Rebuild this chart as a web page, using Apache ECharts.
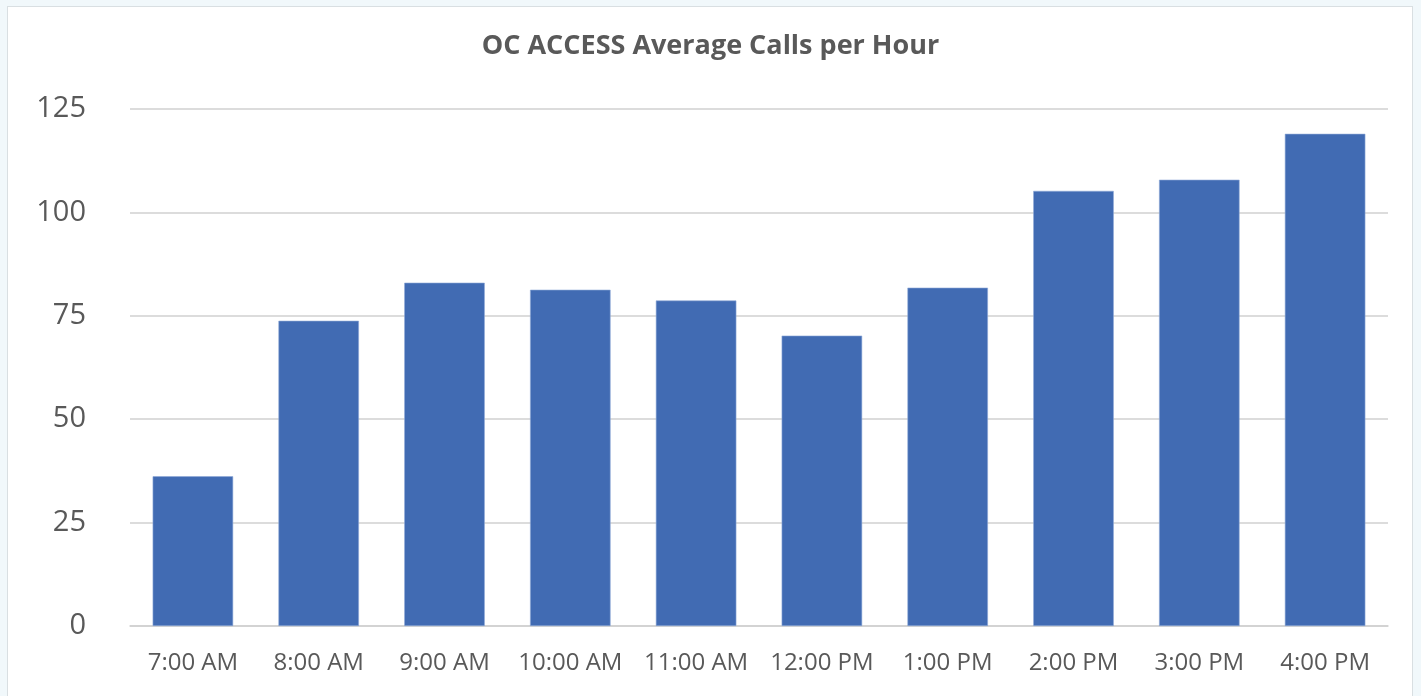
<!DOCTYPE html>
<html><head><meta charset="utf-8">
<script src="https://cdn.jsdelivr.net/npm/echarts@6/dist/echarts.min.js"></script>
<style>
html,body{margin:0;padding:0;background:#f1f8fb;}
#frame{position:absolute;left:7px;top:6px;width:1406px;height:700px;background:#fff;border:1px solid #d9dfe2;box-sizing:border-box;}
#c{position:absolute;left:0;top:0;width:1421px;height:696px;}
</style></head><body>
<div id="frame"></div>
<div id="c"></div>
<script>
const categories = ["7:00 AM","8:00 AM","9:00 AM","10:00 AM","11:00 AM","12:00 PM","1:00 PM","2:00 PM","3:00 PM","4:00 PM"];
const values = [36.2, 73.8, 83.0, 81.3, 78.7, 70.2, 81.8, 105.2, 107.9, 119.0];
const yTicks = [0, 25, 50, 75, 100, 125];
const titleText = "OC ACCESS Average Calls per Hour";

const chart = echarts.init(document.getElementById('c'), null, {renderer:'canvas'});
chart.setOption({
  animation:false,
  title:{text:titleText,left:'center',top:28,textStyle:{fontFamily:'Open Sans',fontWeight:'bold',fontSize:27,color:'#595959'}},
  grid:{left:130,right:33,top:109,bottom:70,containLabel:false},
  xAxis:{type:'category',data:categories,
    axisLine:{lineStyle:{color:'#d0d0d0',width:1.5}},axisTick:{show:false},
    axisLabel:{interval:0,hideOverlap:false,fontFamily:'Open Sans',fontSize:24,color:'#595959',margin:25}},
  yAxis:{type:'value',min:yTicks[0],max:yTicks[yTicks.length-1],interval:25,
    axisLine:{show:false},axisTick:{show:false},
    splitLine:{lineStyle:{color:'#d0d0d0',width:1.5}},
    axisLabel:{fontFamily:'Open Sans',fontSize:29,color:'#595959',margin:44}},
  series:[{type:'bar',data:values,barCategoryGap:'36%',
    itemStyle:{color:'#416bb3',borderColor:'#8fa9d6',borderWidth:0.6}}]
});
</script></body></html>
